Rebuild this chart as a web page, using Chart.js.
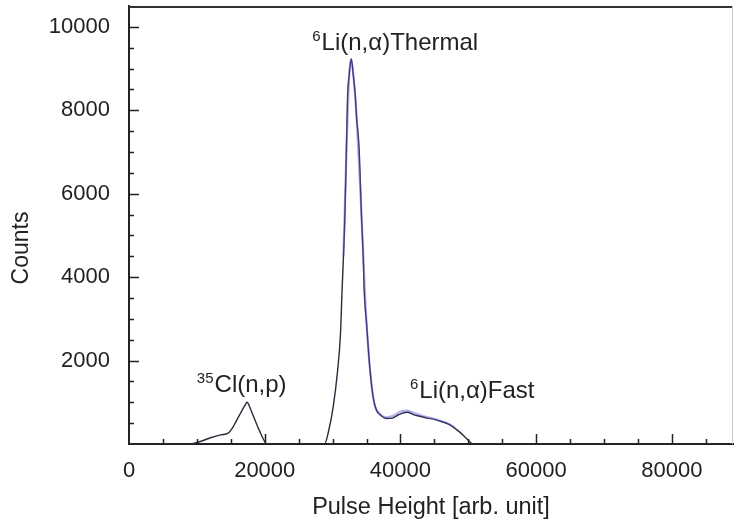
<!DOCTYPE html>
<html>
<head>
<meta charset="utf-8">
<script src="https://cdn.jsdelivr.net/npm/chart.js@4"></script>
<style>
  body { margin: 0; background: #fff; }
  #wrap { width: 735px; height: 525px; position: relative; }
</style>
</head>
<body>
<div id="wrap"><canvas id="spectrum"></canvas></div>
<script>
// pulse height spectrum
const pulseHeight = [0, 9000, 10500, 12000, 13500, 14600, 15300, 15800, 16500, 17100, 17400, 17800, 18300, 18800, 19300, 19800, 20300,
  28800, 29400, 30100, 30700, 31150, 31400, 31600, 31800, 32000, 32200, 32450, 32750, 33050, 33350, 33550, 33900, 34250, 34550, 34650,
  35000, 35500, 36000, 36500, 37000, 38000, 38800, 39500, 40300, 41000, 42000, 43000, 44000, 45000, 46000, 47000, 48000, 48700,
  49500, 50300, 50600, 89000];
const counts = [0, 0, 60, 150, 220, 260, 400, 550, 760, 930, 1000, 880, 680, 480, 290, 120, 0,
  0, 300, 900, 1700, 2600, 3700, 4500, 5400, 6800, 8300, 8850, 9230, 8850, 8350, 7800, 7100, 5500, 4300, 3700,
  2900, 1800, 1100, 800, 700, 610, 620, 680, 740, 760, 700, 660, 620, 590, 540, 480, 380, 290,
  170, 40, 0, 0];

// second (blue) trace, visible over the thermal peak and the fast bump
const bluePulseHeight = [31600, 32000, 32450, 32750, 33050, 33550, 34250, 35000, 36000, 37000, 38000, 39000, 40000, 41000,
  42000, 43000, 44000, 45000, 46000, 47000, 48000];
const blueCounts = [4500, 6800, 8850, 9230, 8850, 7800, 5500, 2900, 1100, 720, 640, 680, 780, 800,
  740, 690, 640, 600, 550, 490, 390];

const xTicks = [0, 20000, 40000, 60000, 80000];
const yTicks = [2000, 4000, 6000, 8000, 10000];

const peakLabels = [
  { sup: '6', text: 'Li(n,\u03b1)Thermal', x: 27000, y: 9450 },
  { sup: '35', text: 'Cl(n,p)', x: 10000, y: 1250 },
  { sup: '6', text: 'Li(n,\u03b1)Fast', x: 41400, y: 1100 }
];

const chartStuff = (function () {
  'use strict';

  const font = "'Liberation Sans', Arial, sans-serif";
  const ink = '#222';

  function toPoints (xs, ys) {
    return xs.map(function (x, i) {
      return { x: x, y: ys[i] };
    });
  }

  // inward ticks, frame, y title and peak labels
  const decorations = {
    id: 'decorations',
    afterDatasetsDraw: function (chart) {
      const ctx = chart.ctx;
      const area = chart.chartArea;
      const xs = chart.scales.x;
      const ys = chart.scales.y;
      ctx.save();
      ctx.strokeStyle = ink;
      ctx.lineWidth = 1.5;
      ctx.beginPath();
      for (let v = 5000; v < xs.max; v += 5000) {
        const px = Math.round(xs.getPixelForValue(v)) + 0.5;
        const len = v % 20000 === 0 ? 10 : 5;
        ctx.moveTo(px, area.bottom);
        ctx.lineTo(px, area.bottom - len);
      }
      for (let v = 500; v < ys.max; v += 500) {
        const py = Math.round(ys.getPixelForValue(v)) + 0.5;
        const len = v % 2000 === 0 ? 10 : 5;
        ctx.moveTo(area.left, py);
        ctx.lineTo(area.left + len, py);
      }
      ctx.stroke();

      // top and right frame
      ctx.lineWidth = 2;
      ctx.strokeStyle = '#333';
      ctx.beginPath();
      ctx.moveTo(area.left, area.top + 1);
      ctx.lineTo(area.right, area.top + 1);
      ctx.stroke();
      ctx.lineWidth = 1;
      ctx.strokeStyle = '#ccc';
      ctx.beginPath();
      ctx.moveTo(area.right - 0.5, area.top);
      ctx.lineTo(area.right - 0.5, area.bottom);
      ctx.stroke();

      ctx.fillStyle = ink;
      ctx.textBaseline = 'alphabetic';
      ctx.textAlign = 'left';
      peakLabels.forEach(function (lab) {
        const px = xs.getPixelForValue(lab.x);
        const py = ys.getPixelForValue(lab.y);
        ctx.font = '15px ' + font;
        ctx.fillText(lab.sup, px, py - 9);
        const w = ctx.measureText(lab.sup).width;
        ctx.font = '24px ' + font;
        ctx.fillText(lab.text, px + w + 1, py);
      });

      // y axis title, sits a bit below the middle in the original
      ctx.font = '23px ' + font;
      ctx.textAlign = 'center';
      ctx.textBaseline = 'middle';
      ctx.translate(22, 248);
      ctx.rotate(-Math.PI / 2);
      ctx.fillText('Counts', 0, 0);
      ctx.restore();
    }
  };

  function init () {
    const ctx = document.getElementById('spectrum');
    new Chart(ctx, {
      type: 'line',
      data: {
        datasets: [{
          data: toPoints(bluePulseHeight, blueCounts),
          borderColor: 'rgba(80, 80, 210, 0.45)',
          borderWidth: 2.2,
          pointRadius: 0,
          cubicInterpolationMode: 'monotone'
        }, {
          data: toPoints(pulseHeight, counts),
          borderColor: '#2b2b3c',
          borderWidth: 1.4,
          pointRadius: 0,
          cubicInterpolationMode: 'monotone'
        }]
      },
      options: {
        responsive: true,
        maintainAspectRatio: false,
        animation: false,
        layout: { padding: { top: 6, right: 2, left: 0, bottom: 0 } },
        plugins: {
          legend: { display: false },
          tooltip: { enabled: false }
        },
        scales: {
          x: {
            type: 'linear',
            min: 0,
            max: 89000,
            afterBuildTicks: function (scale) {
              scale.ticks = xTicks.map(function (v) { return { value: v }; });
            },
            afterFit: function (scale) {
              scale.height = 81;
              scale.paddingLeft = 0;
              scale.paddingRight = 0;
            },
            grid: { display: true, drawOnChartArea: false, drawTicks: false },
            border: { display: true, color: ink, width: 2 },
            ticks: {
              padding: 14,
              color: ink,
              maxRotation: 0,
              font: { family: font, size: 22 },
              callback: function (v) { return String(v); }
            },
            title: {
              display: true,
              text: 'Pulse Height [arb. unit]',
              color: ink,
              font: { family: font, size: 23.5 },
              padding: { top: 0, bottom: 3 }
            }
          },
          y: {
            min: 0,
            max: 10500,
            afterBuildTicks: function (scale) {
              scale.ticks = yTicks.map(function (v) { return { value: v }; });
            },
            afterFit: function (scale) {
              scale.width = 129;
              scale.paddingTop = 0;
              scale.paddingBottom = 0;
            },
            grid: { display: true, drawOnChartArea: false, drawTicks: false },
            border: { display: true, color: ink, width: 2 },
            ticks: {
              padding: 19,
              color: ink,
              font: { family: font, size: 22 },
              callback: function (v) { return String(v); }
            }
          }
        }
      },
      plugins: [decorations]
    });
  }

  return {
    init: init
  };
}());

window.addEventListener('load', chartStuff.init);
</script>
</body>
</html>
